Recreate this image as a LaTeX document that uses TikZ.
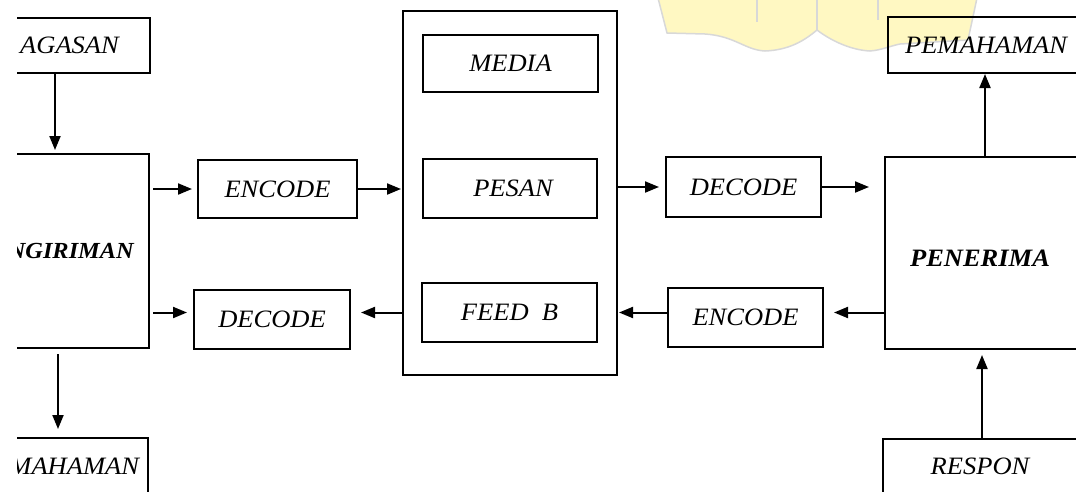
\documentclass[tikz,border=0pt]{standalone}
\usepackage{fontspec}
\setmainfont{Liberation Serif}
\newfontfamily\lblfont[FakeStretch=1.06]{Liberation Serif}
\usetikzlibrary{arrows.meta}
\definecolor{wmfill}{HTML}{FFF8C2}
\definecolor{wmline}{HTML}{D8D8D8}
\begin{document}
\begin{tikzpicture}[x=1pt,y=-1pt,
  box/.style={draw, line width=2pt, rectangle, inner sep=0pt,
    font=\lblfont\itshape\fontsize{25}{30}\selectfont},
  lbl/.style={inner sep=0pt, font=\lblfont\itshape\fontsize{25}{30}\selectfont},
  lblb/.style={inner sep=0pt, font=\lblfont\bfseries\itshape\fontsize{25}{30}\selectfont},
  arr/.style={line width=2pt, -{Triangle[length=14pt,width=11pt]}}]
\useasboundingbox (0,0) rectangle (1076,491);
\begin{scope}
\clip (17,0) rectangle (1076,491);
% watermark
\fill[wmfill] (658,-2) -- (667,33) -- (705,34) .. controls (735,36) and (745,50) .. (765,51)
  .. controls (790,50) and (805,40) .. (817,30) .. controls (830,40) and (850,50) .. (870,51)
  .. controls (882,50) and (890,46) .. (900,44) -- (968,40) -- (977,-2) -- cycle;
\draw[wmline, line width=1.5pt] (658,-2) -- (667,33) -- (705,34) .. controls (735,36) and (745,50) .. (765,51)
  .. controls (790,50) and (805,40) .. (817,30) .. controls (830,40) and (850,50) .. (870,51)
  .. controls (882,50) and (890,46) .. (900,44) -- (968,40) -- (977,-2);
\draw[wmline, line width=1.5pt] (757,0) -- (757,22) (817,0) -- (817,30) (878,0) -- (878,20);
% boxes
\node[box, minimum width=190, minimum height=55] (gagasan) at (55,45.5) {};
\node[lbl, anchor=west] (gagasan-t) at (20,45) {AGASAN};
\node[box, minimum width=182, minimum height=194] (pengiriman) at (58,251) {};
\node[lblb, anchor=east, font=\lblfont\bfseries\itshape\fontsize{23}{28}\selectfont] (pengiriman-t) at (134,251) {PENGIRIMAN};
\node[box, minimum width=172, minimum height=57] (pemahamanL) at (62,466.5) {\hspace*{-8pt}PEMAHAMAN};
\node[box, minimum width=159, minimum height=58] (encodeL) at (277.5,189) {ENCODE};
\node[box, minimum width=156, minimum height=59] (decodeL) at (272,319.5) {DECODE};
\node[box, minimum width=214, minimum height=364] (channel) at (510,193) {};
\node[box, minimum width=175, minimum height=57] (media) at (510.5,63.5) {MEDIA};
\node[box, minimum width=174, minimum height=59] (pesan) at (510,188.5) {\hspace*{6pt}PESAN};
\node[box, minimum width=175, minimum height=59] (feedb) at (509.5,312.5) {FEED~~B};
\node[box, minimum width=155, minimum height=60] (decodeR) at (743.5,187) {DECODE};
\node[box, minimum width=155, minimum height=59] (encodeR) at (745.5,317.5) {ENCODE};
\node[box, minimum width=200, minimum height=192] (penerima) at (985,253) {};
\node[lblb] (penerima-t) at (980,258) {PENERIMA};
\node[box, minimum width=196, minimum height=56] (pemahamanR) at (986,45) {PEMAHAMAN};
\node[box, minimum width=198, minimum height=54] (respon) at (982,466) {\hspace*{-4pt}RESPON};
% arrows
\draw[arr, shorten >=3pt] (gagasan.south) -- (gagasan.south |- pengiriman.north);
\draw[arr, shorten <=5pt, shorten >=8pt] (pengiriman.south) -- (pengiriman.south |- pemahamanL.north);
\draw[arr, shorten <=3pt, shorten >=5pt] (pengiriman.east |- encodeL.west) -- (encodeL.west);
\draw[arr, shorten >=1pt] (encodeL.east) -- (encodeL.east -| channel.west);
\draw[arr, shorten >=6pt] (channel.east |- decodeR.west) -- (decodeR.west);
\draw[arr, shorten >=15pt] (decodeR.east) -- (decodeR.east -| penerima.west);
\draw[arr] (penerima.north) -- (penerima.north |- pemahamanR.south);
\draw[arr, shorten >=5pt] (respon.north) -- (respon.north |- penerima.south);
\draw[arr, shorten >=10pt] (penerima.west |- feedb.east) -- (feedb.east -| encodeR.east);
\draw[arr, shorten >=1pt] (encodeR.west |- feedb.east) -- (feedb.east -| channel.east);
\draw[arr, shorten >=10pt] (channel.west |- feedb.west) -- (feedb.west -| decodeL.east);
\draw[arr, shorten <=3pt, shorten >=6pt] (pengiriman.east |- feedb.west) -- (feedb.west -| decodeL.west);
\end{scope}
\end{tikzpicture}
\end{document}
